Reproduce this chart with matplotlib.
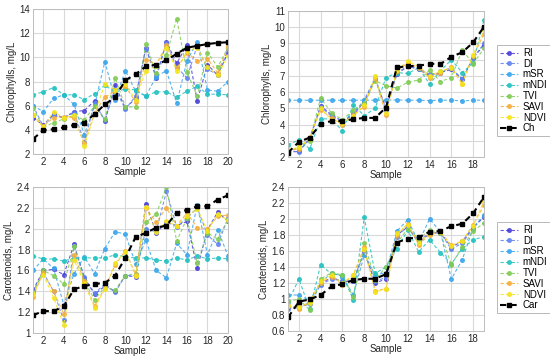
import matplotlib
matplotlib.use("Agg")
import matplotlib.pyplot as plt

plt.rcParams['font.family'] = ['Liberation Sans', 'DejaVu Sans']
plt.rcParams['font.size'] = 7

names = ["RI", "DI", "mSR", "mNDI", "TVI", "SAVI", "NDVI"]
colors = ["#4a3fd8", "#5f82f2", "#3aa6ee", "#22c2c0", "#80cc55", "#f6ad3a", "#f4e41a"]

# chlorophylls, 20 samples
chl1_ref = [3.25, 3.95, 4.05, 4.2, 4.4, 4.6, 5.3, 6.1, 6.7, 8.1, 8.6, 9.25, 9.4, 9.75, 10.3, 10.8, 10.95, 11.1, 11.2, 11.25]
chl1 = {
    "RI":   [5.0, 4.4, 5.3, 5.0, 5.5, 5.6, 6.4, 4.7, 7.7, 5.8, 6.6, 10.8, 8.3, 11.3, 9.5, 11.0, 6.4, 9.4, 8.5, 10.4],
    "DI":   [6.0, 4.3, 5.2, 5.0, 5.4, 3.0, 6.2, 4.8, 7.4, 5.7, 6.8, 10.7, 8.5, 11.2, 9.2, 8.3, 11.0, 9.0, 8.6, 10.6],
    "mSR":  [6.0, 5.5, 6.6, 6.9, 6.1, 3.6, 6.0, 9.65, 6.5, 8.9, 7.2, 6.8, 8.4, 8.9, 6.2, 9.7, 11.3, 7.3, 7.2, 8.0],
    "mNDI": [6.9, 7.15, 7.5, 6.9, 6.9, 6.5, 7.0, 7.7, 7.1, 7.4, 7.3, 6.8, 7.15, 7.15, 6.7, 7.2, 7.6, 6.95, 6.95, 6.9],
    "TVI":  [5.8, 4.2, 4.6, 4.9, 5.2, 4.8, 6.0, 4.9, 8.3, 5.9, 5.9, 11.1, 8.7, 10.2, 13.2, 8.8, 6.8, 10.4, 9.2, 10.8],
    "SAVI": [5.2, 4.3, 5.0, 5.1, 5.0, 2.9, 5.4, 6.7, 7.2, 7.6, 6.3, 9.8, 9.4, 11.0, 9.1, 10.4, 9.7, 9.9, 8.7, 10.9],
    "NDVI": [5.2, 4.2, 5.5, 5.0, 5.2, 2.7, 5.3, 7.8, 7.3, 7.8, 6.5, 8.9, 9.3, 10.8, 8.9, 10.5, 10.8, 9.2, 8.5, 10.1],
}

# chlorophylls, 19 samples
chl2_ref = [2.27, 2.93, 3.2, 4.04, 4.22, 4.22, 4.33, 4.41, 4.41, 5.05, 7.52, 7.6, 7.62, 7.75, 7.73, 8.18, 8.45, 9.06, 10.03]
chl2 = {
    "RI":   [2.3, 2.35, 3.1, 5.15, 4.6, 4.2, 4.6, 5.4, 6.8, 5.0, 7.1, 7.6, 7.4, 7.0, 7.2, 7.4, 6.8, 8.1, 8.9],
    "DI":   [2.4, 2.3, 3.2, 5.1, 4.5, 4.2, 4.7, 5.5, 6.9, 4.9, 7.2, 7.6, 7.45, 7.1, 7.2, 7.5, 6.8, 8.1, 9.0],
    "mSR":  [5.5, 5.5, 5.5, 5.5, 5.5, 5.5, 5.5, 5.5, 5.5, 5.5, 5.52, 5.5, 5.5, 5.48, 5.5, 5.5, 5.46, 5.5, 5.5],
    "mNDI": [2.75, 3.05, 2.5, 4.35, 4.35, 3.6, 5.2, 4.55, 5.0, 6.9, 7.2, 7.15, 7.5, 6.5, 7.3, 8.0, 7.2, 7.8, 10.45],
    "TVI":  [2.3, 2.6, 3.0, 5.65, 4.7, 4.3, 4.9, 5.3, 6.7, 6.4, 6.25, 6.6, 6.75, 7.35, 6.65, 6.9, 8.6, 7.75, 8.7],
    "SAVI": [2.4, 2.5, 3.2, 4.9, 4.4, 4.0, 4.6, 5.1, 6.9, 4.6, 7.3, 7.8, 7.5, 6.9, 7.2, 7.55, 6.5, 8.2, 9.6],
    "NDVI": [2.45, 2.6, 3.1, 5.0, 4.3, 4.1, 4.5, 5.2, 7.0, 4.7, 7.35, 7.9, 7.6, 7.0, 7.3, 7.5, 6.5, 8.3, 9.8],
}

# carotenoids, 20 samples
car1_ref = [1.17, 1.21, 1.21, 1.255, 1.42, 1.45, 1.47, 1.48, 1.55, 1.72, 1.92, 1.96, 2.01, 2.03, 2.155, 2.18, 2.215, 2.215, 2.28, 2.32]
car1 = {
    "RI":   [1.41, 1.60, 1.61, 1.56, 1.85, 1.53, 1.37, 1.45, 1.40, 1.55, 1.54, 2.24, 1.96, 2.06, 2.03, 2.07, 1.62, 1.99, 2.16, 2.07],
    "DI":   [1.39, 1.58, 1.40, 1.12, 1.83, 1.54, 1.38, 1.47, 1.39, 1.55, 1.55, 2.00, 1.97, 2.36, 2.02, 2.10, 2.20, 1.94, 1.85, 2.10],
    "mSR":  [1.60, 1.71, 1.62, 1.27, 1.57, 1.73, 1.57, 1.81, 1.97, 1.95, 1.66, 1.89, 1.60, 1.53, 1.86, 1.75, 2.23, 1.75, 1.99, 1.74],
    "mNDI": [1.74, 1.71, 1.71, 1.69, 1.72, 1.72, 1.72, 1.72, 1.75, 1.73, 1.72, 1.72, 1.70, 1.69, 1.72, 1.70, 1.74, 1.71, 1.72, 1.71],
    "TVI":  [1.38, 1.60, 1.55, 1.47, 1.83, 1.50, 1.32, 1.44, 1.41, 1.55, 1.57, 2.06, 2.14, 2.40, 1.88, 2.10, 1.67, 1.96, 1.90, 2.09],
    "SAVI": [1.35, 1.58, 1.40, 1.18, 1.75, 1.50, 1.26, 1.43, 1.65, 1.79, 1.56, 2.20, 2.06, 2.20, 2.03, 2.15, 2.01, 2.00, 2.12, 2.13],
    "NDVI": [1.37, 1.56, 1.34, 1.08, 1.70, 1.48, 1.24, 1.42, 1.67, 1.78, 1.55, 2.21, 1.97, 2.07, 2.03, 2.12, 2.19, 1.98, 2.14, 2.08],
}

# carotenoids, 19 samples
car2_ref = [0.77, 0.966, 0.995, 1.05, 1.157, 1.186, 1.236, 1.253, 1.253, 1.31, 1.706, 1.756, 1.77, 1.84, 1.85, 1.91, 1.94, 2.07, 2.275]
car2 = {
    "RI":   [0.90, 0.90, 0.95, 1.19, 1.27, 1.22, 1.22, 1.60, 1.20, 1.25, 1.80, 1.90, 1.70, 1.82, 1.83, 1.65, 1.72, 1.90, 2.02],
    "DI":   [0.88, 0.89, 0.94, 1.18, 1.25, 1.23, 1.23, 1.58, 1.22, 1.27, 1.78, 1.91, 1.72, 1.83, 1.83, 1.62, 1.70, 1.88, 2.04],
    "mSR":  [1.05, 1.05, 0.98, 1.20, 1.33, 1.28, 1.05, 1.55, 1.30, 1.33, 1.85, 1.99, 1.71, 2.00, 1.84, 1.25, 1.49, 1.89, 2.05],
    "mNDI": [0.96, 1.25, 0.87, 1.43, 1.31, 1.30, 0.99, 2.02, 1.32, 1.40, 1.63, 1.86, 1.59, 1.74, 1.58, 1.44, 1.63, 1.74, 1.78],
    "TVI":  [0.97, 1.00, 0.86, 1.25, 1.33, 1.30, 1.02, 1.70, 1.24, 1.40, 1.70, 1.88, 1.75, 1.86, 1.83, 1.43, 1.65, 1.85, 1.95],
    "SAVI": [0.92, 0.88, 0.97, 1.20, 1.28, 1.18, 1.30, 1.65, 1.10, 1.13, 1.80, 1.94, 1.68, 1.80, 1.84, 1.67, 1.72, 1.93, 2.17],
    "NDVI": [0.91, 0.90, 0.95, 1.22, 1.30, 1.20, 1.30, 1.62, 1.09, 1.12, 1.82, 1.93, 1.70, 1.82, 1.84, 1.66, 1.73, 1.91, 2.23],
}


def panel(ax, series, ref, ref_name, ylabel, ylim, yticks, ytl):
    n = len(ref)
    x = list(range(1, n + 1))
    for nm, c in zip(names, colors):
        ax.plot(x, series[nm], ls="--", lw=0.8, color=c, marker="o", ms=2.6,
                mfc=c, mec=c, alpha=0.85, dashes=(3, 2), label=nm)
    ax.plot(x, ref, ls="--", lw=1.5, color="black", marker="s", ms=3.3,
            dashes=(3, 2), label=ref_name)
    ax.set_xlim(1, n)
    ax.set_ylim(*ylim)
    ax.set_xticks(range(2, n + 1, 2))
    ax.set_yticks(yticks)
    ax.set_yticklabels(ytl)
    ax.grid(True, color="#d9d9d9", lw=0.8)
    ax.set_axisbelow(True)
    for s in ax.spines.values():
        s.set_color("#bdbdbd")
        s.set_linewidth(0.7)
    ax.tick_params(length=0, pad=2, labelcolor="#262626")
    ax.set_xlabel("Sample", labelpad=0, color="#262626")
    ax.set_ylabel(ylabel, labelpad=2, color="#262626")


fig = plt.figure(figsize=(5.5, 3.57), dpi=100)
H = 357.0
W = 550.0


def axes_px(l, t, r, b):
    return fig.add_axes([l / W, 1 - b / H, (r - l) / W, (b - t) / H])


ax1 = axes_px(33, 9, 228, 154)
ax2 = axes_px(288, 11, 484, 157)
ax3 = axes_px(33, 187, 228, 333)
ax4 = axes_px(288, 187, 484, 331)

panel(ax1, chl1, chl1_ref, "Ch", "Chlorophylls, mg/L", (2, 14),
      [2, 4, 6, 8, 10, 12, 14], ["2", "4", "6", "8", "10", "12", "14"])
panel(ax2, chl2, chl2_ref, "Ch", "Chlorophylls, mg/L", (2, 11),
      list(range(2, 12)), [str(v) for v in range(2, 12)])
ct1 = [1.0, 1.2, 1.4, 1.6, 1.8, 2.0, 2.2, 2.4]
panel(ax3, car1, car1_ref, "Car", "Carotenoids, mg/L", (1, 2.4),
      ct1, ["1", "1.2", "1.4", "1.6", "1.8", "2", "2.2", "2.4"])
ct2 = [0.6, 0.8, 1.0, 1.2, 1.4, 1.6, 1.8, 2.0, 2.2, 2.4]
panel(ax4, car2, car2_ref, "Car", "Carotenoids, mg/L", (0.6, 2.4),
      ct2, ["0.6", "0.8", "1", "1.2", "1.4", "1.6", "1.8", "2", "2.2", "2.4"])

# legend boxes, pixel positions: (left, top) of the frame
for ax, (lx, ly) in ((ax2, (497, 45)), (ax4, (497, 222))):
    leg = ax.legend(loc="upper left", bbox_to_anchor=(lx / W, 1 - ly / H),
                    bbox_transform=fig.transFigure, fontsize=7,
                    frameon=True, fancybox=False, handlelength=1.9,
                    borderpad=0.3, labelspacing=0.08, handletextpad=0.45,
                    borderaxespad=0)
    leg.get_frame().set_edgecolor("#a6a6a6")
    leg.get_frame().set_linewidth(0.7)

fig.savefig("out.png", dpi=100)
